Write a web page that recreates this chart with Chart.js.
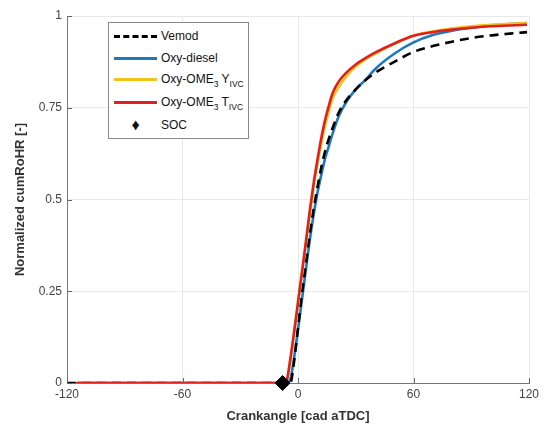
<!DOCTYPE html>
<html>
<head>
<meta charset="utf-8">
<script src="https://cdn.jsdelivr.net/npm/chart.js@4"></script>
<style>
  body { margin: 0; background: #fff; font-family: "Liberation Sans", Arial, sans-serif; }
  #wrap { position: relative; width: 544px; height: 428px; }
  #legend {
    position: absolute; left: 108px; top: 22px; width: 139px; height: 115px;
    background: #fff; border: 1px solid #8a8a8a; font-size: 12px; color: #111;
  }
  .row { position: absolute; left: 5px; height: 20px; line-height: 20px; white-space: nowrap; }
  .sample { display: inline-block; width: 43px; height: 0; margin-right: 4px; vertical-align: middle; }
  .row sub { font-size: 8.5px; vertical-align: -4px; line-height: 0; }
</style>
</head>
<body>
<div id="wrap">
  <canvas id="chart" width="544" height="428"></canvas>
  <div id="legend">
    <div class="row" style="top:3px"><span class="sample" style="border-top:3px dashed #000"></span>Vemod</div>
    <div class="row" style="top:25px"><span class="sample" style="border-top:3px solid #1f77bd"></span>Oxy-diesel</div>
    <div class="row" style="top:46px"><span class="sample" style="border-top:3px solid #f0c419"></span>Oxy-OME<sub>3</sub> Y<sub>IVC</sub></div>
    <div class="row" style="top:69px"><span class="sample" style="border-top:3px solid #e0201b"></span>Oxy-OME<sub>3</sub> T<sub>IVC</sub></div>
    <div class="row" style="top:92px"><span class="sample" style="height:auto;text-align:center;font-size:16px;vertical-align:top">&#9830;</span>SOC</div>
  </div>
</div>
<script>
// Daten
const crankAngle = [-120, -115, -10, -8, -6, -4, -2, 0, 2, 4, 6, 8, 10, 12, 14, 16, 18, 21, 25, 30, 35, 40, 50, 60, 70, 80, 90, 100, 110, 119];
const vemod  = [0, 0, 0, 0, 0, 0, 0.06, 0.15, 0.24, 0.32, 0.40, 0.47, 0.53, 0.585, 0.63, 0.665, 0.695, 0.735, 0.77, 0.80, 0.825, 0.845, 0.875, 0.902, 0.918, 0.93, 0.94, 0.947, 0.952, 0.956];
const oxyDiesel = [null, 0, 0, 0, 0, 0.01, 0.07, 0.145, 0.225, 0.305, 0.385, 0.455, 0.515, 0.565, 0.61, 0.645, 0.68, 0.725, 0.765, 0.80, 0.826, 0.855, 0.897, 0.928, 0.948, 0.96, 0.968, 0.974, 0.978, 0.981];
const oxyOmeY = [null, 0, 0, 0, 0.005, 0.06, 0.135, 0.215, 0.295, 0.375, 0.455, 0.53, 0.595, 0.65, 0.70, 0.74, 0.775, 0.805, 0.835, 0.862, 0.882, 0.897, 0.924, 0.946, 0.958, 0.966, 0.972, 0.976, 0.979, 0.981];
const oxyOmeT = [null, 0, 0, 0, 0.005, 0.065, 0.14, 0.22, 0.30, 0.38, 0.465, 0.54, 0.605, 0.665, 0.715, 0.755, 0.79, 0.82, 0.845, 0.868, 0.885, 0.90, 0.925, 0.946, 0.956, 0.963, 0.968, 0.972, 0.974, 0.976];
const socAngle = [-8];
const socValue = [0];
const xTicks = [-120, -60, 0, 60, 120];
const yTicks = [0, 0.25, 0.5, 0.75, 1];

function toPoints(xs, ys) {
    return xs.map((x, i) => ({ x: x, y: ys[i] })).filter(p => p.y !== null);
}

// kleine Ticks nach innen (wie MATLAB)
const innerTicks = {
    id: 'innerTicks',
    afterDraw(chart) {
        const c = chart.ctx, a = chart.chartArea;
        const xs = chart.scales.x, ys = chart.scales.y;
        c.save();
        c.strokeStyle = '#666';
        c.lineWidth = 1;
        c.beginPath();
        xTicks.forEach(v => {
            const px = Math.round(xs.getPixelForValue(v)) + 0.5;
            c.moveTo(px, a.bottom); c.lineTo(px, a.bottom - 5);
        });
        yTicks.forEach(v => {
            const py = Math.round(ys.getPixelForValue(v)) + 0.5;
            c.moveTo(a.left, py); c.lineTo(a.left + 5, py);
        });
        c.stroke();
        c.restore();
    }
};

const line = (label, ys, color, order, extra) => Object.assign({
    type: 'line', label: label, data: toPoints(crankAngle, ys), order: order,
    borderColor: color, backgroundColor: color, borderWidth: 2.6,
    pointRadius: 0, cubicInterpolationMode: 'monotone', fill: false
}, extra || {});

const ctx = document.getElementById('chart').getContext('2d');
const chart = new Chart(ctx, {
    type: 'line',
    data: {
        datasets: [
            line('Vemod', vemod, '#000000', 4, { borderDash: [9, 6] }),
            line('Oxy-diesel', oxyDiesel, '#1f77bd', 5),
            line('Oxy-OME3 YIVC', oxyOmeY, '#f0c419', 3),
            line('Oxy-OME3 TIVC', oxyOmeT, '#e0201b', 2),
            {
                type: 'scatter', label: 'SOC', data: toPoints(socAngle, socValue), order: 1,
                pointStyle: 'rectRot', pointRadius: 7.5, pointHoverRadius: 7.5,
                backgroundColor: '#000', borderColor: '#000', clip: false
            }
        ]
    },
    options: {
        responsive: false,
        animation: false,
        layout: { padding: { top: 16, right: 15, left: 0, bottom: 0 } },
        plugins: { legend: { display: false }, tooltip: { enabled: false } },
        scales: {
            x: {
                type: 'linear', min: -120, max: 120,
                afterBuildTicks: s => { s.ticks = xTicks.map(v => ({ value: v })); },
                afterFit: s => { s.height = 45; },
                ticks: { color: '#444', font: { size: 12, family: 'Liberation Sans' }, padding: 4 },
                grid: { color: '#e8e8e8', drawTicks: false },
                border: { color: '#777' },
                title: { display: true, text: 'Crankangle [cad aTDC]', color: '#333',
                         font: { size: 13, weight: 'bold', family: 'Liberation Sans' }, padding: { top: 5 } }
            },
            y: {
                type: 'linear', min: 0, max: 1,
                afterBuildTicks: s => { s.ticks = yTicks.map(v => ({ value: v })); },
                afterFit: s => { s.width = 67; },
                ticks: { color: '#444', font: { size: 12, family: 'Liberation Sans' }, padding: 5,
                         callback: v => String(v) },
                grid: { color: '#e8e8e8', drawTicks: false },
                border: { color: '#777' },
                title: { display: true, text: 'Normalized cumRoHR [-]', color: '#333',
                         font: { size: 13, weight: 'bold', family: 'Liberation Sans' }, padding: { top: 13, bottom: 0 } }
            }
        }
    },
    plugins: [innerTicks]
});
</script>
</body>
</html>
